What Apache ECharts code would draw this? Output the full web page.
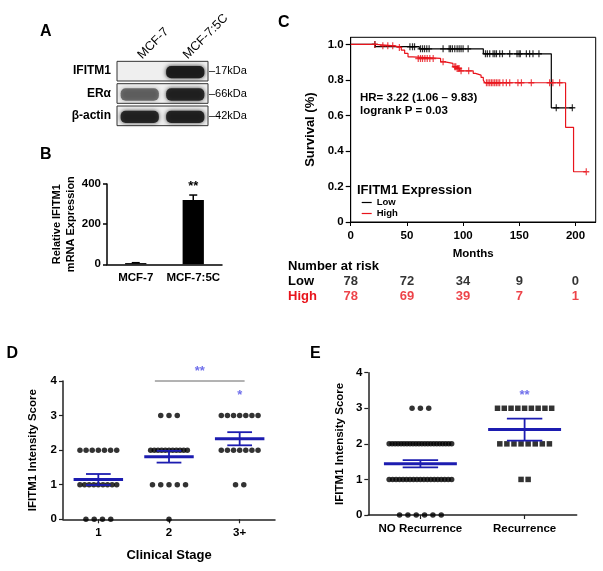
<!DOCTYPE html>
<html><head><meta charset="utf-8">
<script src="https://cdn.jsdelivr.net/npm/echarts@6/dist/echarts.min.js"></script>
<style>html,body{margin:0;padding:0;background:#fff}#c{width:603px;height:571px}</style>
</head><body><div id="c"></div>
<script>
// ---------- Panel A: western blot ----------
const blotLanes = ['MCF-7', 'MCF-7:5C'];
const blotRows = ['IFITM1', 'ERα', 'β-actin'];
const blotKDa = ['17kDa', '66kDa', '42kDa'];
const blotIntensity = [[0.0, 0.95], [0.55, 0.88], [0.88, 0.9]]; // row x lane

// ---------- Panel B: bar chart ----------
const bCategories = ['MCF-7', 'MCF-7:5C'];
const bValues = [6, 320];
const bErrors = [2, 25];
const bSig = ['', '**'];

// ---------- Panel C: Kaplan-Meier ----------
const kmLowTimes = [0, 22, 61, 118, 178.5, 197.7];
const kmLowSurv = [1.0, 0.987, 0.975, 0.947, 0.643, 0.643];
const kmLowCensor = [21.5, 52.7, 55, 56.8, 62.1, 63.9, 65.7, 67.7, 69.8, 82.2, 87.6, 88.8, 90.5, 92.6, 94.7, 96.5, 98.2, 100, 104.5,
  119.9, 121.6, 123.7, 126.7, 128.2, 129.7, 132.6, 135, 141.5, 148, 149.8, 150.9, 156.3, 159.2, 162.2, 167.5, 182.9, 197.2];
const kmHighTimes = [0, 22, 39, 45, 48, 51, 55, 80, 84, 91, 94, 97, 109, 111, 116, 118, 119.3, 191.2, 198.3, 209.6];
const kmHighSurv = [1.0, 0.992, 0.983, 0.968, 0.949, 0.930, 0.921, 0.902, 0.893, 0.874, 0.864, 0.851, 0.837, 0.827, 0.814, 0.799, 0.784, 0.533, 0.283, 0.283];
const kmHighCensor = [21.6, 28.6, 33, 37.4, 43.3, 60.1, 62.1, 63.9, 66, 68.1, 70.4, 73.4, 82.2, 92.6, 93.5, 94.7, 95.6, 96.5, 98.2, 105,
  120.8, 122.2, 123.7, 125.2, 126.6, 128.1, 129.6, 131.1, 132.6, 135.5, 138.5, 141.5, 148.8, 151.9, 160.7, 177, 179.9, 185.9, 209.6];
const kmXTicks = [0, 50, 100, 150, 200];
const kmYTicks = [0, 0.2, 0.4, 0.6, 0.8, 1.0];
const riskGroups = ['Low', 'High'];
const riskTimes = [0, 50, 100, 150, 200];
const riskLow = [78, 72, 34, 9, 0];
const riskHigh = [78, 69, 39, 7, 1];

// ---------- Panel D: clinical stage ----------
const dStages = ['1', '2', '3+'];
const dCounts = [[4, 9, 7, 0], [1, 5, 11, 3], [0, 2, 7, 7]]; // patients with score 0,1,2,3
const dMean = [1.15, 1.81, 2.33];
const dSem = [0.16, 0.17, 0.19];
const dSig = ['', '', '*'];
const dSigY = [0, 0, 3.58];
const dBracket = [1.8, 3.07, 4.0];
const dBracketSig = '**';

// ---------- Panel E: recurrence ----------
const eGroups = ['NO Recurrence', 'Recurrence'];
const eCounts = [[6, 19, 22, 3], [0, 2, 8, 9]];
const eMean = [1.44, 2.40];
const eSem = [0.10, 0.31];
const eSig = ['', '**'];
const eSigY = [0, 3.36];

// ---------- helpers ----------
const FONT = "'Liberation Sans', Arial, Helvetica, sans-serif";
const RED = '#e8141c';
const BLUE = '#1c1cb0';
const SIGBLUE = '#4b4be6';
const PLUS = 'path://M4,0H6V4H10V6H6V10H4V6H0V4H4Z';

function stepAt(times, surv, t) {
  let s = surv[0];
  for (let i = 0; i < times.length; i++) if (times[i] <= t) s = surv[i];
  return s;
}
function swarm(counts, catIndex, maxStep, maxSpan) {
  const pts = [];
  counts.forEach((n, score) => {
    if (!n) return;
    const step = n > 1 ? Math.min(maxStep, maxSpan / (n - 1)) : 0;
    for (let i = 0; i < n; i++) pts.push([catIndex + 1 + (i - (n - 1) / 2) * step, score]);
  });
  return pts;
}
function meanSemRender(halfMean, halfCap) {
  return function (params, api) {
    const x = api.value(0), m = api.value(1), s = api.value(2);
    const l = api.coord([x - halfMean, m]), r = api.coord([x + halfMean, m]);
    const t = api.coord([x, m + s]), b = api.coord([x, m - s]);
    const tl = api.coord([x - halfCap, m + s]), tr = api.coord([x + halfCap, m + s]);
    const bl = api.coord([x - halfCap, m - s]), br = api.coord([x + halfCap, m - s]);
    const st = { stroke: BLUE, lineWidth: 1.8 };
    return { type: 'group', children: [
      { type: 'line', shape: { x1: t[0], y1: t[1], x2: b[0], y2: b[1] }, style: st },
      { type: 'line', shape: { x1: tl[0], y1: tl[1], x2: tr[0], y2: tr[1] }, style: st },
      { type: 'line', shape: { x1: bl[0], y1: bl[1], x2: br[0], y2: br[1] }, style: st },
      { type: 'line', shape: { x1: l[0], y1: l[1], x2: r[0], y2: r[1] }, style: { stroke: BLUE, lineWidth: 3 } }
    ]};
  };
}
const lbl = (size, extra) => Object.assign({ color: '#000', fontFamily: FONT, fontWeight: 'bold', fontSize: size }, extra || {});
function txt(text, x, y, size, opts) {
  return { type: 'text', silent: true, style: Object.assign({ text, x, y, fill: '#000',
    font: `bold ${size}px ${FONT}`, textAlign: 'left', textVerticalAlign: 'middle' }, opts || {}) };
}

// data construction
const blotBandData = [];
blotIntensity.forEach((row, r) => row.forEach((v, l) => blotBandData.push([l, r, v])));
const blotBoxData = blotRows.map((_, r) => [0, r]);

const kmLowLine = kmLowTimes.map((t, i) => [t, kmLowSurv[i]]);
const kmHighLine = kmHighTimes.map((t, i) => [t, kmHighSurv[i]]);
const kmLowMarks = kmLowCensor.map(t => [t, stepAt(kmLowTimes, kmLowSurv, t)]);
const kmHighMarks = kmHighCensor.map(t => [t, stepAt(kmHighTimes, kmHighSurv, t)]);

let dDots = [];
dCounts.forEach((c, i) => { dDots = dDots.concat(swarm(c, i, 0.117, 0.52)); });
const eDotsNo = swarm(eCounts[0], 0, 0.08, 0.6);
const eDotsRec = swarm(eCounts[1], 1, 0.068, 0.52);

const chart = echarts.init(document.getElementById('c'), null, { renderer: 'canvas' });
chart.setOption({
  animation: false,
  backgroundColor: '#fff',
  textStyle: { fontFamily: FONT },
  graphic: [
    txt('A', 40, 32, 16), txt('B', 40, 155, 16), txt('C', 278, 22.5, 16),
    txt('D', 6.5, 353.5, 16), txt('E', 310, 354, 16),
    txt('HR= 3.22 (1.06 – 9.83)', 360, 98, 11.5),
    txt('logrank P = 0.03', 360, 111, 11.5),
    txt('IFITM1 Expression', 357, 190, 13),
    txt('Number at risk', 288, 266, 13)
  ],
  legend: {
    data: ['Low', 'High'], orient: 'vertical', left: 361.7, top: 197, padding: 0,
    icon: 'rect', itemWidth: 10, itemHeight: 1.2, itemGap: 0,
    textStyle: { fontFamily: FONT, fontWeight: 'bold', fontSize: 9.5, color: '#000', lineHeight: 11 }
  },
  grid: [
    { left: 117, top: 60, width: 91, height: 67 },                                   // 0 blot
    { left: 107, top: 184, width: 115, height: 80.3 },                                // 1 B
    { left: 350.7, top: 37.3, width: 245, height: 184.7, show: true, borderColor: '#000', borderWidth: 1 }, // 2 C
    { left: 350.7, top: 274.2, width: 245, height: 30 },                              // 3 risk
    { left: 63, top: 381, width: 212, height: 138.3 },                                // 4 D
    { left: 368.3, top: 372.7, width: 208.4, height: 142.3 }                          // 5 E
  ],
  xAxis: [
    { gridIndex: 0, type: 'category', data: blotLanes, position: 'top',
      axisLine: { show: false }, axisTick: { show: false },
      axisLabel: lbl(12.5, { fontWeight: 'normal', rotate: -45, margin: 3, interval: 0 }) },
    { gridIndex: 1, type: 'category', data: bCategories,
      axisLine: { lineStyle: { color: '#000', width: 1.5 } }, axisTick: { show: false },
      axisLabel: lbl(11.5, { margin: 8, interval: 0 }) },
    { gridIndex: 2, type: 'value', min: 0, max: 218, splitLine: { show: false },
      axisLine: { lineStyle: { color: '#000', width: 1 } },
      axisTick: { length: 4, customValues: kmXTicks, lineStyle: { color: '#000' } },
      axisLabel: lbl(11.5, { customValues: kmXTicks, margin: 8 }),
      name: 'Months', nameLocation: 'middle', nameGap: 26, nameTextStyle: lbl(11.5) },
    { gridIndex: 3, type: 'value', min: 0, max: 218, show: false },
    { gridIndex: 4, type: 'value', min: 0.5, max: 3.5, splitLine: { show: false },
      axisLine: { lineStyle: { color: '#222', width: 1.5 } },
      axisTick: { length: 4, customValues: [1, 2, 3], lineStyle: { color: '#222', width: 1.2 } },
      axisLabel: lbl(11.5, { customValues: [1, 2, 3], margin: 8, formatter: v => dStages[Math.round(v) - 1] }),
      name: 'Clinical Stage', nameLocation: 'middle', nameGap: 30, nameTextStyle: lbl(13) },
    { gridIndex: 5, type: 'value', min: 0.5, max: 2.5, splitLine: { show: false },
      axisLine: { lineStyle: { color: '#222', width: 1.5 } },
      axisTick: { length: 4, customValues: [1, 2], lineStyle: { color: '#222', width: 1.2 } },
      axisLabel: lbl(11.5, { customValues: [1, 2], margin: 8, formatter: v => eGroups[Math.round(v) - 1] }) }
  ],
  yAxis: [
    { gridIndex: 0, type: 'category', data: blotRows, inverse: true,
      axisLine: { show: false }, axisTick: { show: false }, axisLabel: lbl(12, { margin: 6, interval: 0 }) },
    { gridIndex: 0, type: 'category', data: blotRows, inverse: true, position: 'right',
      axisLine: { show: false }, axisTick: { show: false },
      axisLabel: lbl(11, { fontWeight: 'normal', margin: 1, interval: 0, formatter: (v, i) => '–' + blotKDa[i] }) },
    { gridIndex: 1, type: 'value', min: 0, max: 400, interval: 200, splitLine: { show: false },
      axisLine: { show: true, lineStyle: { color: '#000', width: 1.5 } },
      axisTick: { show: true, length: 4, lineStyle: { color: '#000', width: 1.5 } },
      axisLabel: lbl(11.5, { margin: 6 }),
      name: 'Relative IFITM1\nmRNA Expression', nameLocation: 'middle', nameGap: 28, nameRotate: 90,
      nameTextStyle: lbl(11, { lineHeight: 14 }) },
    { gridIndex: 2, type: 'value', min: 0, max: 1.04, splitLine: { show: false },
      axisLine: { show: true, lineStyle: { color: '#000', width: 1 } },
      axisTick: { show: true, length: 5, customValues: kmYTicks, lineStyle: { color: '#000', width: 1.2 } },
      axisLabel: lbl(11.5, { customValues: kmYTicks, margin: 7, formatter: v => v === 0 ? '0' : v.toFixed(1) }),
      name: 'Survival (%)', nameLocation: 'middle', nameGap: 34, nameRotate: 90, nameTextStyle: lbl(13) },
    { gridIndex: 3, type: 'category', data: riskGroups, inverse: true,
      axisLine: { show: false }, axisTick: { show: false },
      axisLabel: lbl(13, { align: 'left', margin: 62.7, interval: 0, color: (v) => (v === 'High' ? RED : '#000') }) },
    { gridIndex: 4, type: 'value', min: 0, max: 4, interval: 1, splitLine: { show: false },
      axisLine: { show: true, lineStyle: { color: '#222', width: 1.5 } },
      axisTick: { show: true, length: 4, lineStyle: { color: '#222', width: 1.2 } },
      axisLabel: lbl(11.5, { margin: 6 }),
      name: 'IFITM1 Intensity Score', nameLocation: 'middle', nameGap: 24, nameRotate: 90, nameTextStyle: lbl(11.5) },
    { gridIndex: 5, type: 'value', min: 0, max: 4, interval: 1, splitLine: { show: false },
      axisLine: { show: true, lineStyle: { color: '#222', width: 1.5 } },
      axisTick: { show: true, length: 4, lineStyle: { color: '#222', width: 1.2 } },
      axisLabel: lbl(11.5, { margin: 6 }),
      name: 'IFITM1 Intensity Score', nameLocation: 'middle', nameGap: 22, nameRotate: 90, nameTextStyle: lbl(11.5) }
  ],
  series: [
    // A: blot boxes
    { type: 'custom', xAxisIndex: 0, yAxisIndex: 0, data: blotBoxData, z: 1,
      renderItem: (params, api) => {
        const cs = params.coordSys;
        const c = api.coord([0, api.value(1)]);
        const h = api.size([0, 1])[1] * 0.88;
        return { type: 'rect', shape: { x: cs.x, y: c[1] - h / 2, width: cs.width, height: h },
          style: { fill: '#efefef', stroke: '#333', lineWidth: 1 } };
      } },
    // A: bands
    { type: 'custom', xAxisIndex: 0, yAxisIndex: 0, data: blotBandData, z: 2,
      renderItem: (params, api) => {
        const v = api.value(2);
        if (v <= 0) return null;
        const c = api.coord([api.value(0), api.value(1)]);
        const sz = api.size([1, 1]);
        const w = sz[0] * 0.84, h = sz[1] * 0.55;
        const col = `rgba(25,25,25,${v})`;
        return { type: 'rect', shape: { x: c[0] - w / 2, y: c[1] - h / 2 + 1, width: w, height: h, r: 5 },
          style: { fill: col, shadowBlur: 4, shadowColor: col } };
      } },
    // B: bars
    { type: 'bar', xAxisIndex: 1, yAxisIndex: 2, data: bValues, barWidth: '37%', itemStyle: { color: '#000' } },
    { type: 'custom', xAxisIndex: 1, yAxisIndex: 2, data: bValues.map((v, i) => [i, v, bErrors[i]]), z: 3,
      renderItem: (params, api) => {
        const i = api.value(0), v = api.value(1), e = api.value(2);
        const top = api.coord([i, v + e]), base = api.coord([i, v]);
        const ch = [{ type: 'line', shape: { x1: top[0], y1: top[1], x2: base[0], y2: base[1] }, style: { stroke: '#000', lineWidth: 1.5 } },
          { type: 'line', shape: { x1: top[0] - 4, y1: top[1], x2: top[0] + 4, y2: top[1] }, style: { stroke: '#000', lineWidth: 1.5 } }];
        if (bSig[params.dataIndex]) ch.push({ type: 'text', style: { text: bSig[params.dataIndex], x: top[0], y: top[1] - 2,
          textAlign: 'center', textVerticalAlign: 'bottom', font: `bold 13px ${FONT}`, fill: '#000' } });
        return { type: 'group', children: ch };
      } },
    // C: KM curves
    { name: 'Low', type: 'line', xAxisIndex: 2, yAxisIndex: 3, step: 'end', data: kmLowLine, symbol: 'none',
      lineStyle: { color: '#000', width: 1.2 }, itemStyle: { color: '#000' }, z: 3 },
    { name: 'High', type: 'line', xAxisIndex: 2, yAxisIndex: 3, step: 'end', data: kmHighLine, symbol: 'none',
      lineStyle: { color: RED, width: 1.2 }, itemStyle: { color: RED }, z: 4 },
    { type: 'scatter', xAxisIndex: 2, yAxisIndex: 3, data: kmLowMarks, symbol: PLUS, symbolSize: [6, 7],
      itemStyle: { color: '#000' }, z: 3 },
    { type: 'scatter', xAxisIndex: 2, yAxisIndex: 3, data: kmHighMarks, symbol: PLUS, symbolSize: [6, 7],
      itemStyle: { color: RED }, z: 4 },
    // C: number at risk
    { type: 'scatter', xAxisIndex: 3, yAxisIndex: 4, data: riskTimes.map((t, i) => [t, 0, riskLow[i]]), symbolSize: 0,
      label: { show: true, position: 'inside', formatter: p => p.value[2], color: '#000', fontFamily: FONT, fontWeight: 'bold', fontSize: 13 } },
    { type: 'scatter', xAxisIndex: 3, yAxisIndex: 4, data: riskTimes.map((t, i) => [t, 1, riskHigh[i]]), symbolSize: 0,
      label: { show: true, position: 'inside', formatter: p => p.value[2], color: RED, fontFamily: FONT, fontWeight: 'bold', fontSize: 13 } },
    // D
    { type: 'scatter', xAxisIndex: 4, yAxisIndex: 5, data: dDots, symbol: 'circle', symbolSize: 5.5,
      itemStyle: { color: '#000' }, clip: false, z: 3 },
    { type: 'custom', xAxisIndex: 4, yAxisIndex: 5, data: dMean.map((m, i) => [i + 1, m, dSem[i]]), z: 4,
      renderItem: meanSemRender(0.35, 0.175) },
    { type: 'line', xAxisIndex: 4, yAxisIndex: 5, data: [[dBracket[0], dBracket[2]], [dBracket[1], dBracket[2]]],
      symbol: 'none', lineStyle: { color: '#666', width: 1 }, clip: false },
    { type: 'scatter', xAxisIndex: 4, yAxisIndex: 5, clip: false, symbolSize: 0,
      data: [[(dBracket[0] + dBracket[1]) / 2, dBracket[2] + 0.28, dBracketSig]].concat(
        dSig.map((s, i) => [i + 1, dSigY[i], s]).filter(d => d[2])),
      label: { show: true, position: 'inside', formatter: p => p.value[2], color: SIGBLUE, fontFamily: FONT, fontWeight: 'bold', fontSize: 13 } },
    // E
    { type: 'scatter', xAxisIndex: 5, yAxisIndex: 6, data: eDotsNo, symbol: 'circle', symbolSize: 5.5,
      itemStyle: { color: '#000' }, clip: false, z: 3 },
    { type: 'scatter', xAxisIndex: 5, yAxisIndex: 6, data: eDotsRec, symbol: 'rect', symbolSize: 5.5,
      itemStyle: { color: '#000' }, clip: false, z: 3 },
    { type: 'custom', xAxisIndex: 5, yAxisIndex: 6, data: eMean.map((m, i) => [i + 1, m, eSem[i]]), z: 4,
      renderItem: meanSemRender(0.35, 0.17) },
    { type: 'scatter', xAxisIndex: 5, yAxisIndex: 6, clip: false, symbolSize: 0,
      data: eSig.map((s, i) => [i + 1, eSigY[i], s]).filter(d => d[2]),
      label: { show: true, position: 'inside', formatter: p => p.value[2], color: SIGBLUE, fontFamily: FONT, fontWeight: 'bold', fontSize: 13 } }
  ]
});
</script></body></html>
